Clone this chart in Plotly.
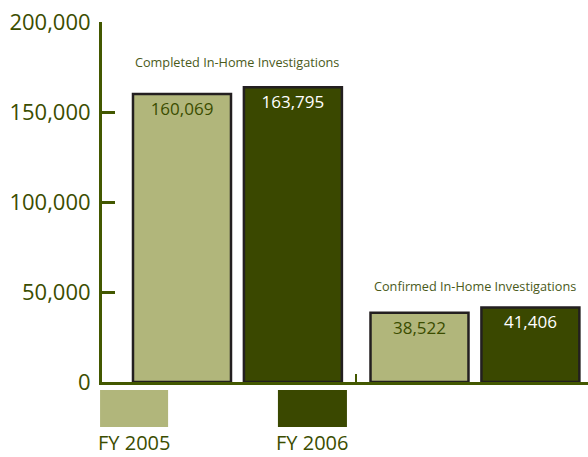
import plotly.graph_objects as go

groups = ["Completed In-Home Investigations", "Confirmed In-Home Investigations"]
series_names = ["FY 2005", "FY 2006"]
fy2005 = [160069, 38522]
fy2006 = [163795, 41406]
y_ticks = [0, 50000, 100000, 150000, 200000]

light = "#b1b67b"
dark = "#3a4800"
olive_text = "#3b4d00"
axis_col = "#435800"
font_family = "Open Sans, Lato, sans-serif"

xpos = list(range(len(groups)))

fig = go.Figure()
series = [(series_names[0], fy2005, light, olive_text, -0.44),
          (series_names[1], fy2006, dark, "white", 0.027)]
for name, vals, col, tcol, off in series:
    fig.add_trace(go.Bar(
        x=xpos, y=vals, name=name,
        marker=dict(color=col, line=dict(color="#231f20", width=2.5)),
        width=0.4126, offset=off,
        text=[f"{v:,}" for v in vals],
        textposition="inside", insidetextanchor="end",
        textfont=dict(family=font_family, size=17, color=tcol),
        constraintext="none",
        showlegend=False,
    ))

# group titles
shifts = [25, 21]
for i, g in enumerate(groups):
    top = max(fy2005[i], fy2006[i])
    fig.add_annotation(x=xpos[i], y=top, yshift=shifts[i], text=g, showarrow=False,
                       xref="x", yref="y", yanchor="middle",
                       font=dict(family=font_family, size=12.7, color="#4a5a1a"))

# custom legend (boxes + labels below)
legend_boxes = [(-0.004, 0.136), (0.362, 0.504)]
for (x0, x1), name, col in zip(legend_boxes, series_names, [light, dark]):
    fig.add_shape(type="rect", xref="paper", yref="paper", x0=x0, x1=x1,
                  y0=-0.125, y1=-0.0222, fillcolor=col, line=dict(width=0))
    fig.add_annotation(xref="paper", yref="paper", x=(x0 + x1) / 2, y=-0.168,
                       xanchor="center", yanchor="middle",
                       text=name, showarrow=False,
                       font=dict(family=font_family, size=20, color=olive_text))

fig.update_layout(
    width=588, height=457,
    margin=dict(l=102, r=0, t=22, b=75, autoexpand=False),
    paper_bgcolor="white", plot_bgcolor="white",
    barmode="overlay",
    xaxis=dict(range=[-0.5705, 1.4758], showgrid=False, zeroline=False,
               showline=True, linecolor=axis_col, linewidth=3,
               tickmode="array", tickvals=[0.5], ticks="inside", ticklen=8,
               tickwidth=2, tickcolor=axis_col, showticklabels=False,
               automargin=False),
    yaxis=dict(range=[0, 200000], showgrid=False, zeroline=False,
               showline=True, linecolor=axis_col, linewidth=3,
               tickmode="array", tickvals=y_ticks,
               ticktext=[f"{v:,}" for v in y_ticks],
               ticks="inside", ticklen=13, tickwidth=3, tickcolor=axis_col,
               tickfont=dict(family=font_family, size=22, color=olive_text),
               ticklabelstandoff=4, automargin=False),
)

fig.write_html("out.html", config={"displayModeBar": False},
               post_script="document.body.style.margin='0';document.body.style.overflow='hidden';")
